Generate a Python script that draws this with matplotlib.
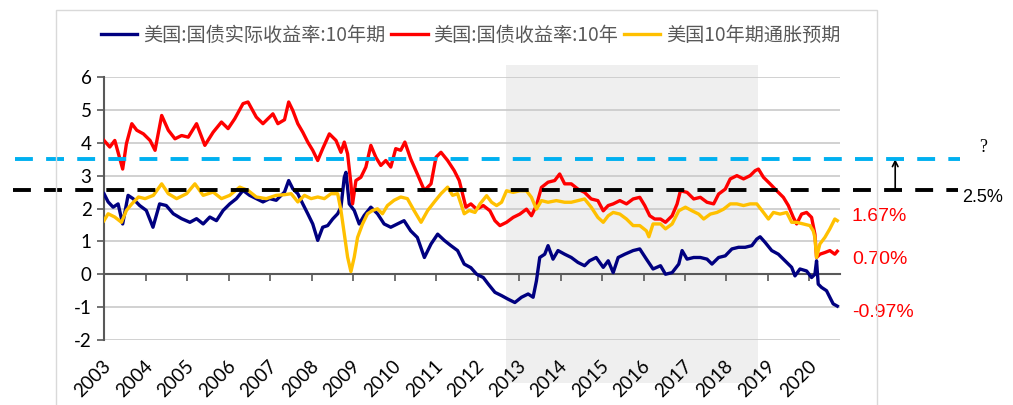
import matplotlib
matplotlib.use("Agg")
import matplotlib.pyplot as plt
import matplotlib.patches as patches
import matplotlib.transforms as mtransforms

# 美国:国债实际收益率:10年期
real_x = [2003.00, 2003.10, 2003.22, 2003.34, 2003.45, 2003.58, 2003.70, 2003.86, 2004.02, 2004.18,
          2004.34, 2004.50, 2004.67, 2004.87, 2005.07, 2005.23, 2005.39, 2005.55, 2005.71, 2005.87,
          2006.03, 2006.19, 2006.35, 2006.51, 2006.67, 2006.83, 2006.99, 2007.15, 2007.35, 2007.45,
          2007.55, 2007.67, 2007.79, 2007.91, 2008.03, 2008.15, 2008.27, 2008.39, 2008.51, 2008.63,
          2008.71, 2008.79, 2008.83, 2008.91, 2009.03, 2009.15, 2009.27, 2009.43, 2009.59, 2009.75,
          2009.91, 2010.07, 2010.23, 2010.39, 2010.55, 2010.72, 2010.88, 2011.04, 2011.20, 2011.36,
          2011.52, 2011.68, 2011.84, 2011.98, 2012.14, 2012.26, 2012.42, 2012.58, 2012.74, 2012.90,
          2013.06, 2013.22, 2013.34, 2013.42, 2013.50, 2013.62, 2013.70, 2013.82, 2013.94, 2014.10,
          2014.26, 2014.42, 2014.58, 2014.70, 2014.86, 2015.03, 2015.15, 2015.27, 2015.39, 2015.55,
          2015.75, 2015.91, 2016.07, 2016.23, 2016.41, 2016.53, 2016.69, 2016.85, 2016.93, 2017.05,
          2017.21, 2017.37, 2017.53, 2017.65, 2017.81, 2017.97, 2018.13, 2018.29, 2018.45, 2018.61,
          2018.73, 2018.81, 2018.93, 2019.09, 2019.25, 2019.41, 2019.57, 2019.65, 2019.77, 2019.93,
          2020.05, 2020.13, 2020.17, 2020.21, 2020.29, 2020.41, 2020.49, 2020.57, 2020.67]
real_y = [2.45, 2.20, 2.04, 2.14, 1.53, 2.40, 2.30, 2.09, 1.94, 1.43,
          2.14, 2.09, 1.84, 1.69, 1.58, 1.69, 1.53, 1.74, 1.63, 1.94,
          2.14, 2.30, 2.55, 2.40, 2.30, 2.20, 2.30, 2.25, 2.50, 2.85,
          2.60, 2.45, 2.14, 1.84, 1.53, 1.03, 1.43, 1.48, 1.68, 1.84,
          2.04, 2.95, 3.10, 2.14, 1.94, 1.53, 1.79, 2.04, 1.84, 1.53,
          1.43, 1.53, 1.63, 1.32, 1.12, 0.51, 0.92, 1.22, 1.03, 0.87,
          0.72, 0.31, 0.20, 0.00, -0.10, -0.30, -0.55, -0.65, -0.76, -0.86,
          -0.70, -0.60, -0.70, -0.20, 0.51, 0.61, 0.87, 0.46, 0.72, 0.61,
          0.51, 0.36, 0.26, 0.41, 0.51, 0.21, 0.41, 0.05, 0.51, 0.61,
          0.72, 0.77, 0.46, 0.16, 0.26, 0.00, 0.05, 0.31, 0.72, 0.46,
          0.51, 0.51, 0.46, 0.31, 0.51, 0.56, 0.77, 0.82, 0.82, 0.87,
          1.07, 1.14, 0.97, 0.72, 0.61, 0.41, 0.21, -0.05, 0.16, 0.10,
          -0.10, 0.00, 0.41, -0.30, -0.40, -0.50, -0.70, -0.90, -0.97]

# 美国:国债收益率:10年
nom_x = [2003.00, 2003.14, 2003.26, 2003.34, 2003.45, 2003.54, 2003.67, 2003.79, 2003.95, 2004.11,
         2004.23, 2004.39, 2004.55, 2004.71, 2004.87, 2005.03, 2005.23, 2005.43, 2005.63, 2005.83,
         2005.99, 2006.15, 2006.35, 2006.47, 2006.67, 2006.83, 2007.07, 2007.19, 2007.35, 2007.45,
         2007.55, 2007.67, 2007.79, 2007.91, 2008.03, 2008.15, 2008.27, 2008.43, 2008.59, 2008.71,
         2008.79, 2008.87, 2008.95, 2008.99, 2009.07, 2009.19, 2009.31, 2009.43, 2009.55, 2009.67,
         2009.79, 2009.91, 2010.03, 2010.15, 2010.25, 2010.39, 2010.55, 2010.72, 2010.88, 2011.00,
         2011.12, 2011.28, 2011.44, 2011.56, 2011.72, 2011.84, 2011.98, 2012.14, 2012.30, 2012.42,
         2012.54, 2012.70, 2012.86, 2013.02, 2013.18, 2013.30, 2013.42, 2013.54, 2013.70, 2013.86,
         2013.98, 2014.10, 2014.26, 2014.42, 2014.58, 2014.74, 2014.90, 2015.03, 2015.15, 2015.27,
         2015.43, 2015.59, 2015.75, 2015.91, 2016.03, 2016.15, 2016.27, 2016.41, 2016.53, 2016.69,
         2016.81, 2016.89, 2017.05, 2017.21, 2017.37, 2017.53, 2017.69, 2017.81, 2017.97, 2018.09,
         2018.25, 2018.41, 2018.57, 2018.69, 2018.77, 2018.89, 2019.05, 2019.21, 2019.37, 2019.49,
         2019.61, 2019.69, 2019.81, 2019.93, 2020.05, 2020.13, 2020.17, 2020.25, 2020.37, 2020.49,
         2020.61, 2020.67]
nom_y = [4.07, 3.87, 4.07, 3.70, 3.20, 3.97, 4.58, 4.38, 4.27, 4.07,
         3.77, 4.83, 4.38, 4.12, 4.22, 4.17, 4.58, 3.92, 4.32, 4.63,
         4.43, 4.73, 5.19, 5.24, 4.78, 4.58, 4.88, 4.58, 4.70, 5.24,
         4.98, 4.58, 4.32, 4.02, 3.77, 3.46, 3.82, 4.27, 4.07, 3.71,
         4.02, 3.66, 2.75, 2.14, 2.85, 2.95, 3.26, 3.92, 3.56, 3.31,
         3.46, 3.26, 3.82, 3.77, 4.02, 3.51, 3.05, 2.55, 2.75, 3.56,
         3.71, 3.46, 3.15, 2.85, 2.04, 2.14, 1.98, 2.09, 1.93, 1.63,
         1.48, 1.58, 1.73, 1.83, 1.98, 1.78, 2.09, 2.64, 2.80, 2.85,
         3.05, 2.75, 2.75, 2.59, 2.49, 2.29, 2.24, 1.93, 2.09, 2.14,
         2.24, 2.14, 2.29, 2.34, 2.09, 1.78, 1.68, 1.68, 1.58, 1.78,
         2.14, 2.54, 2.49, 2.29, 2.34, 2.19, 2.14, 2.44, 2.59, 2.90,
         3.00, 2.90, 3.00, 3.15, 3.20, 2.95, 2.75, 2.54, 2.34, 2.09,
         1.73, 1.53, 1.83, 1.88, 1.73, 1.22, 0.51, 0.61, 0.66, 0.72,
         0.61, 0.70]

# 美国10年期通胀预期
bei_x = [2003.00, 2003.10, 2003.26, 2003.42, 2003.54, 2003.67, 2003.83, 2003.99, 2004.19, 2004.39,
         2004.55, 2004.75, 2004.99, 2005.19, 2005.39, 2005.63, 2005.83, 2006.03, 2006.27, 2006.47,
         2006.67, 2006.91, 2007.15, 2007.35, 2007.51, 2007.67, 2007.83, 2007.99, 2008.15, 2008.31,
         2008.47, 2008.63, 2008.71, 2008.79, 2008.87, 2008.95, 2009.03, 2009.11, 2009.23, 2009.35,
         2009.47, 2009.59, 2009.71, 2009.83, 2009.99, 2010.15, 2010.31, 2010.47, 2010.64, 2010.80,
         2010.96, 2011.12, 2011.28, 2011.40, 2011.52, 2011.68, 2011.80, 2011.94, 2012.06, 2012.22,
         2012.34, 2012.46, 2012.58, 2012.70, 2012.86, 2013.02, 2013.18, 2013.30, 2013.42, 2013.54,
         2013.70, 2013.90, 2014.10, 2014.26, 2014.42, 2014.58, 2014.74, 2014.90, 2015.03, 2015.15,
         2015.27, 2015.43, 2015.59, 2015.75, 2015.91, 2016.07, 2016.13, 2016.23, 2016.41, 2016.53,
         2016.69, 2016.85, 2017.01, 2017.17, 2017.33, 2017.45, 2017.61, 2017.77, 2017.93, 2018.09,
         2018.25, 2018.41, 2018.57, 2018.73, 2018.89, 2019.01, 2019.13, 2019.29, 2019.45, 2019.57,
         2019.69, 2019.85, 2020.01, 2020.09, 2020.13, 2020.17, 2020.25, 2020.37, 2020.49, 2020.61,
         2020.67]
bei_y = [1.63, 1.84, 1.74, 1.58, 1.94, 2.14, 2.35, 2.30, 2.40, 2.75,
         2.45, 2.30, 2.45, 2.75, 2.40, 2.50, 2.30, 2.40, 2.65, 2.55,
         2.35, 2.30, 2.40, 2.42, 2.45, 2.20, 2.40, 2.30, 2.35, 2.30,
         2.45, 2.45, 1.94, 1.23, 0.52, 0.08, 0.52, 1.12, 1.53, 1.84,
         1.94, 1.99, 1.84, 2.09, 2.25, 2.35, 2.30, 1.94, 1.58, 1.94,
         2.20, 2.45, 2.65, 2.40, 2.45, 1.84, 1.94, 1.88, 2.14, 2.39,
         2.19, 2.09, 2.19, 2.54, 2.49, 2.54, 2.54, 2.34, 1.98, 2.24,
         2.19, 2.24, 2.19, 2.19, 2.24, 2.29, 2.04, 1.73, 1.58, 1.78,
         1.88, 1.83, 1.68, 1.48, 1.48, 1.32, 1.14, 1.53, 1.53, 1.38,
         1.53, 1.93, 2.04, 1.93, 1.83, 1.68, 1.83, 1.88, 1.98, 2.14,
         2.14, 2.09, 2.14, 2.14, 1.88, 1.68, 1.88, 1.83, 1.88, 1.58,
         1.58, 1.53, 1.48, 1.32, 1.12, 0.51, 0.92, 1.12, 1.38, 1.68,
         1.63]

years = list(range(2003, 2021))
yticks = [-2, -1, 0, 1, 2, 3, 4, 5, 6]
names = ['美国:国债实际收益率:10年期', '美国:国债收益率:10年', '美国10年期通胀预期']
colors = ['#000080', '#FF0000', '#FFC000']
end_labels = ['1.67%', '0.70%', '-0.97%']
end_label_y = [1.77, 0.46, -1.15]
shade_span = (2012.69, 2018.75)
target_level = 3.5
base_level = 2.57

cjk = ['Noto Sans CJK SC', 'DejaVu Sans']

fig = plt.figure(figsize=(10.13, 4.05), dpi=100)
ax = fig.add_axes([104 / 1013, 65 / 405, 736 / 1013, 263 / 405])

fig.add_artist(patches.Rectangle((56 / 1013, -0.01), 821 / 1013, 1 - 10 / 405 + 0.01,
                                 transform=fig.transFigure, fill=False, ec='#D9D9D9', lw=1))

ax.set_xlim(2003, 2003 + 736 / 41.5)
ax.set_ylim(-2, 6)
ax.set_axisbelow(True)

# shaded period, spills past plot like the original
ax.add_patch(patches.Rectangle((shade_span[0], -3.3), shade_span[1] - shade_span[0], 9.66,
                               color='#EFEFEF', lw=0, zorder=0.1, clip_on=False))

for y in yticks:
    ax.axhline(y, color='#C9C9C9', lw=1.2, zorder=0.5)

ax.plot(real_x, real_y, color=colors[0], lw=2.4, label=names[0], zorder=3)
ax.plot(nom_x, nom_y, color=colors[1], lw=2.4, label=names[1], zorder=3)
ax.plot(bei_x, bei_y, color=colors[2], lw=2.4, label=names[2], zorder=3)

# dashed reference levels
ytr = ax.get_yaxis_transform()
ax.plot([-0.121, 1.163], [target_level] * 2, transform=ytr, color='#00B0F0', lw=2.8,
        linestyle=(0, (4.6, 3.4)), clip_on=False, zorder=4)
ax.plot([-0.124, 1.160], [base_level] * 2, transform=ytr, color='black', lw=2.8,
        linestyle=(0, (4.6, 3.4)), clip_on=False, zorder=4)
ax.annotate('', xy=(1.075, target_level), xytext=(1.075, base_level), xycoords=ytr,
            textcoords=ytr, annotation_clip=False,
            arrowprops=dict(arrowstyle='->', lw=1.2, color='black', shrinkA=0, shrinkB=0))
ax.text(1.194, 3.87, '?', transform=ytr, fontsize=13, family='Liberation Serif',
        ha='center', va='center')
ax.text(1.166, 2.32, '2.5%', transform=ytr, fontsize=13, family='Liberation Sans',
        ha='left', va='center')

for lab, yy in zip(end_labels, end_label_y):
    ax.text(1.016, yy, lab, transform=ytr, color='#FF0000', fontsize=14,
            family='Liberation Sans', ha='left', va='center')

# axes styling
for s in ['top', 'right']:
    ax.spines[s].set_visible(False)
ax.spines['left'].set_color('#595959')
ax.spines['left'].set_linewidth(1.5)
ax.spines['bottom'].set_position(('data', 0))
ax.spines['bottom'].set_color('#595959')
ax.spines['bottom'].set_linewidth(1.5)
ax.spines['bottom'].set_zorder(2)
ax.set_yticks(yticks)
ax.set_yticklabels([str(v) for v in yticks], family='Lato', fontsize=13.5)
ax.tick_params(axis='y', direction='out', length=5, width=1.2, color='#595959', pad=4)
ax.set_xticks(years)
ax.tick_params(axis='x', direction='out', length=5, width=1.2, color='#595959', labelbottom=False)

sec = ax.secondary_xaxis('bottom')
sec.set_zorder(5)
sec.spines['bottom'].set_visible(False)
sec.set_xticks(years)
sec.tick_params(length=0, pad=17)
offset = mtransforms.ScaledTranslation(4 / 100, 0, fig.dpi_scale_trans)
for lbl in sec.get_xticklabels():
    lbl.set_rotation(45)
    lbl.set_ha('right')
    lbl.set_va('center')
    lbl.set_rotation_mode('anchor')
    lbl.set_family('Lato')
    lbl.set_fontsize(13.5)
    lbl.set_transform(lbl.get_transform() + offset)

leg = fig.legend(loc='center left', bbox_to_anchor=(101 / 1013, 1 - 35 / 405), ncol=3,
                 frameon=False, handlelength=1.9, handletextpad=0.3, columnspacing=0.3,
                 borderaxespad=0, borderpad=0, prop={'family': cjk, 'size': 13.8})
for t in leg.get_texts():
    t.set_color('#595959')

fig.savefig('out.png', dpi=100)
